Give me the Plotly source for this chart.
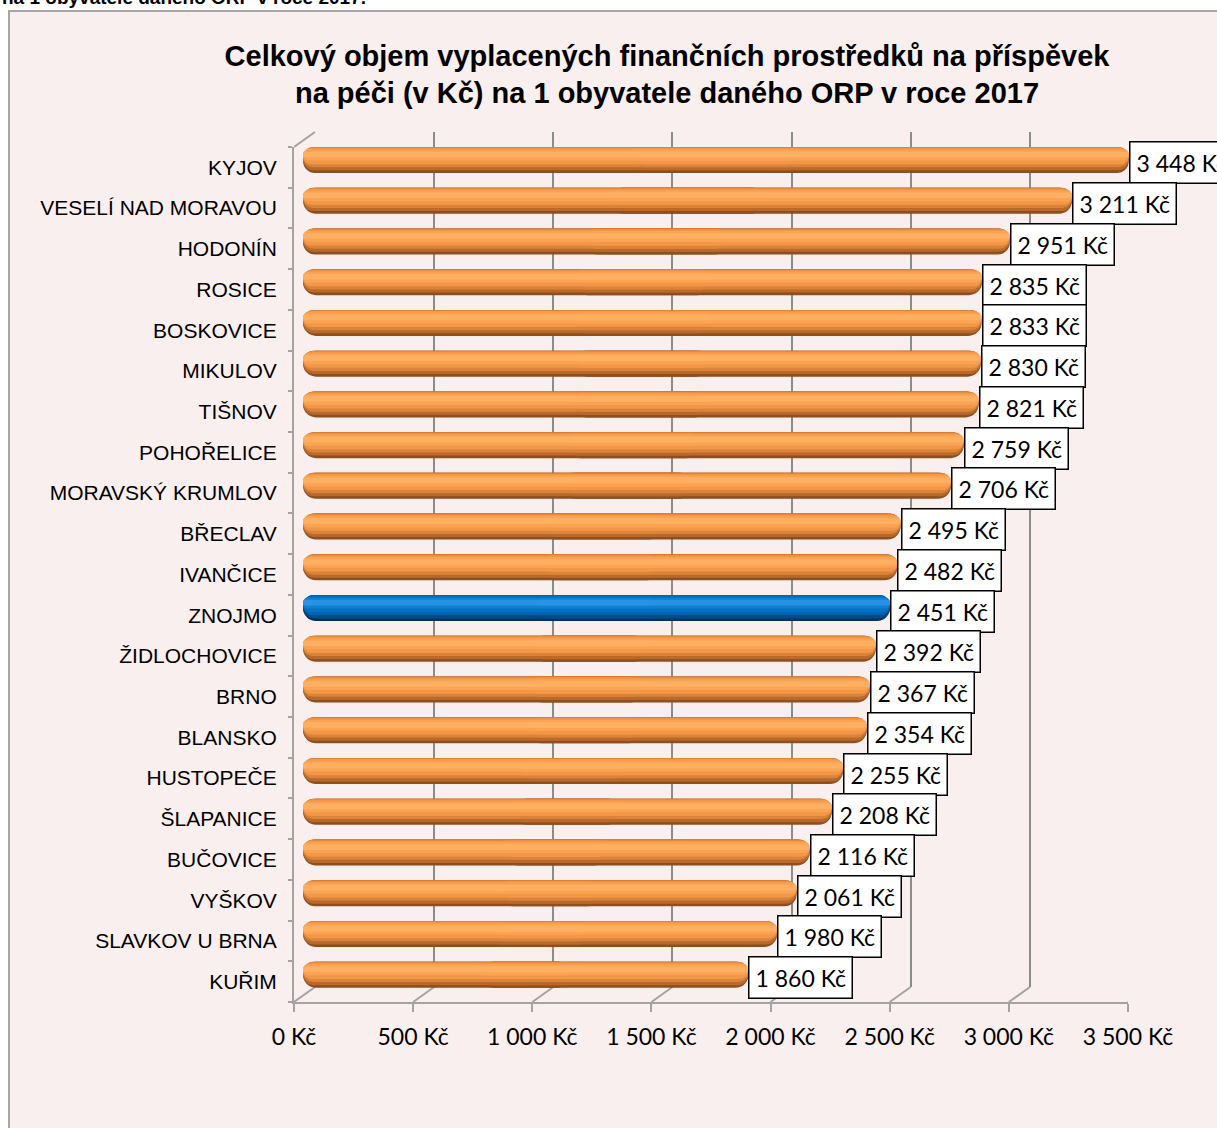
import plotly.graph_objects as go

# ---------------- data ----------------
categories = ["KYJOV", "VESELÍ NAD MORAVOU", "HODONÍN", "ROSICE", "BOSKOVICE",
              "MIKULOV", "TIŠNOV", "POHOŘELICE", "MORAVSKÝ KRUMLOV", "BŘECLAV",
              "IVANČICE", "ZNOJMO", "ŽIDLOCHOVICE", "BRNO", "BLANSKO",
              "HUSTOPEČE", "ŠLAPANICE", "BUČOVICE", "VYŠKOV", "SLAVKOV U BRNA", "KUŘIM"]
values = [3448, 3211, 2951, 2835, 2833, 2830, 2821, 2759, 2706, 2495, 2482,
          2451, 2392, 2367, 2354, 2255, 2208, 2116, 2061, 1980, 1860]
highlight = "ZNOJMO"
tick_values = [0, 500, 1000, 1500, 2000, 2500, 3000, 3500]
tick_labels = ["0 Kč", "500 Kč", "1 000 Kč", "1 500 Kč", "2 000 Kč",
               "2 500 Kč", "3 000 Kč", "3 500 Kč"]
title_text = ("Celkový objem vyplacených finančních prostředků na příspěvek<br>"
              "na péči (v Kč) na 1 obyvatele daného ORP v roce 2017")
top_text = "na 1 obyvatele daného ORP v roce 2017."

# ---------------- geometry helpers ----------------
W, H = 1217, 1128
def fx(px):
    return px / W
def fy(px):
    return 1 - px / H

XMAX = 3500
cat_order = categories[::-1]          # bottom -> top
ROW = 40.74                            # px per category
BAR_PX = 26                            # bar thickness in px
T = BAR_PX / ROW                       # bar thickness in category units

GRID = "#8C8C8C"
WALL = "#A3A3A3"
BG = "#F9EFEF"

fig = go.Figure()

# back wall (drawn first -> below everything)
fig.add_trace(go.Scatter(x=tick_values, y=[0] * len(tick_values), xaxis="x", yaxis="y",
                         mode="none", showlegend=False, hoverinfo="skip"))
# front wall / category + value axes
fig.add_trace(go.Scatter(x=values, y=categories, xaxis="x2", yaxis="y2",
                         mode="none", showlegend=False, hoverinfo="skip"))

# cylinder-like bars built from layered rounded bars
layers = [
    (0.00, 1.00, "#8E4E1E", "#00305A"),
    (0.00, 0.90, "#B8692B", "#004A86"),
    (0.00, 0.78, "#DB8439", "#0062AC"),
    (0.04, 0.66, "#F29747", "#0071C3"),
    (0.10, 0.52, "#F9A353", "#0B80D5"),
    (0.18, 0.40, "#FFAF62", "#2A92E2"),
]
for a, b, c_or, c_bl in layers:
    colors = [c_bl if c == highlight else c_or for c in categories]
    offset = T / 2 - b * T
    width = (b - a) * T
    radius = (b - a) * BAR_PX / 2
    # left half: rounded at 0
    fig.add_trace(go.Bar(
        y=categories, x=[-0.6 * v for v in values], base=[0.6 * v for v in values],
        orientation="h", xaxis="x3", yaxis="y3", offset=offset, width=width,
        marker=dict(color=colors, line=dict(width=0), cornerradius=radius),
        showlegend=False, hoverinfo="skip"))
    # right half: rounded at value
    fig.add_trace(go.Bar(
        y=categories, x=[0.6 * v for v in values], base=[0.4 * v for v in values],
        orientation="h", xaxis="x3", yaxis="y3", offset=offset, width=width,
        marker=dict(color=colors, line=dict(width=0), cornerradius=radius),
        showlegend=False, hoverinfo="skip"))

# data labels
annotations = []
for c, v in zip(categories, values):
    annotations.append(dict(
        x=v, y=c, xref="x3", yref="y3", xanchor="left", yanchor="middle",
        yshift=-3, showarrow=False,
        text=f"{v:,}".replace(",", " ") + " Kč",
        font=dict(family="Lato", size=23, color="black"),
        bgcolor="white", bordercolor="black", borderwidth=1.5, borderpad=6))

annotations.append(dict(
    x=0, y=fy(10), xref="paper", yref="paper", xanchor="left", yanchor="bottom",
    showarrow=False, text="<b>" + top_text + "</b>",
    font=dict(family="Liberation Sans", size=19, color="black")))

# 3D frame decorations: floor diagonals and left-wall top diagonal
DX_KC = 21 / (834 / XMAX)
shapes = [dict(type="rect", xref="paper", yref="paper",
               x0=fx(9), x1=1.02, y0=-0.02, y1=fy(11),
               fillcolor=BG, line=dict(color="#A6A6A6", width=2), layer="below")]
for tv in tick_values:
    shapes.append(dict(type="line", xref="x2", yref="paper",
                       x0=tv, x1=tv + DX_KC, y0=fy(1002), y1=fy(987),
                       line=dict(color=WALL, width=2), layer="below"))
shapes.append(dict(type="line", xref="x2", yref="paper",
                   x0=0, x1=DX_KC, y0=fy(147), y1=fy(132),
                   line=dict(color=WALL, width=2), layer="below"))

fig.update_layout(
    width=W, height=H,
    autosize=False,
    margin=dict(l=0, r=0, t=0, b=0, pad=0, autoexpand=False),
    paper_bgcolor="white",
    plot_bgcolor="rgba(0,0,0,0)",
    barmode="overlay",
    showlegend=False,
    title=dict(text="<b>" + title_text + "</b>", x=fx(667), xanchor="center",
               y=fy(65.5), yanchor="middle", automargin=False,
               font=dict(family="Liberation Sans", size=29, color="black")),
    # back wall
    xaxis=dict(domain=[fx(315), fx(1149)], range=[0, XMAX], anchor="y",
               tickvals=tick_values, showticklabels=False, ticks="",
               showgrid=True, gridcolor=GRID, gridwidth=2, automargin=False,
               zeroline=False, showline=False, fixedrange=True),
    yaxis=dict(domain=[fy(987), fy(132)], range=[0, 1], anchor="x",
               visible=False, fixedrange=True, automargin=False),
    # front wall
    xaxis2=dict(domain=[fx(294), fx(1128)], range=[0, XMAX], anchor="y2",
                tickvals=tick_values, ticktext=tick_labels,
                ticks="outside", ticklen=8, tickwidth=2, tickcolor=WALL,
                showline=True, linecolor=WALL, linewidth=2, automargin=False,
                showgrid=False, zeroline=False, ticklabelstandoff=5,
                tickfont=dict(family="Lato", size=23, color="black"),
                fixedrange=True),
    yaxis2=dict(domain=[fy(1002), fy(147)], anchor="x2", type="category",
                categoryorder="array", categoryarray=cat_order,
                range=[-0.5, len(categories) - 0.5], automargin=False,
                ticks="outside", tickson="boundaries", ticklen=4, tickwidth=2,
                tickcolor=WALL, showline=True, linecolor=WALL, linewidth=2,
                showgrid=False, zeroline=False, ticklabelstandoff=11,
                tickfont=dict(family="Liberation Sans", size=21, color="black"),
                fixedrange=True),
    # bars
    xaxis3=dict(domain=[fx(303), fx(303 + XMAX * 0.2395)], range=[0, XMAX],
                anchor="y3", visible=False, fixedrange=True, automargin=False),
    yaxis3=dict(domain=[fy(995.1), fy(139.6)], anchor="x3", type="category",
                categoryorder="array", categoryarray=cat_order, automargin=False,
                range=[-0.5, len(categories) - 0.5], visible=False, fixedrange=True),
    annotations=annotations,
    shapes=shapes,
)

fig.write_html(
    "out.html",
    config={"displayModeBar": False},
    post_script="document.body.style.margin='0';document.body.style.overflow='hidden';"
                "document.documentElement.style.overflow='hidden';",
)
